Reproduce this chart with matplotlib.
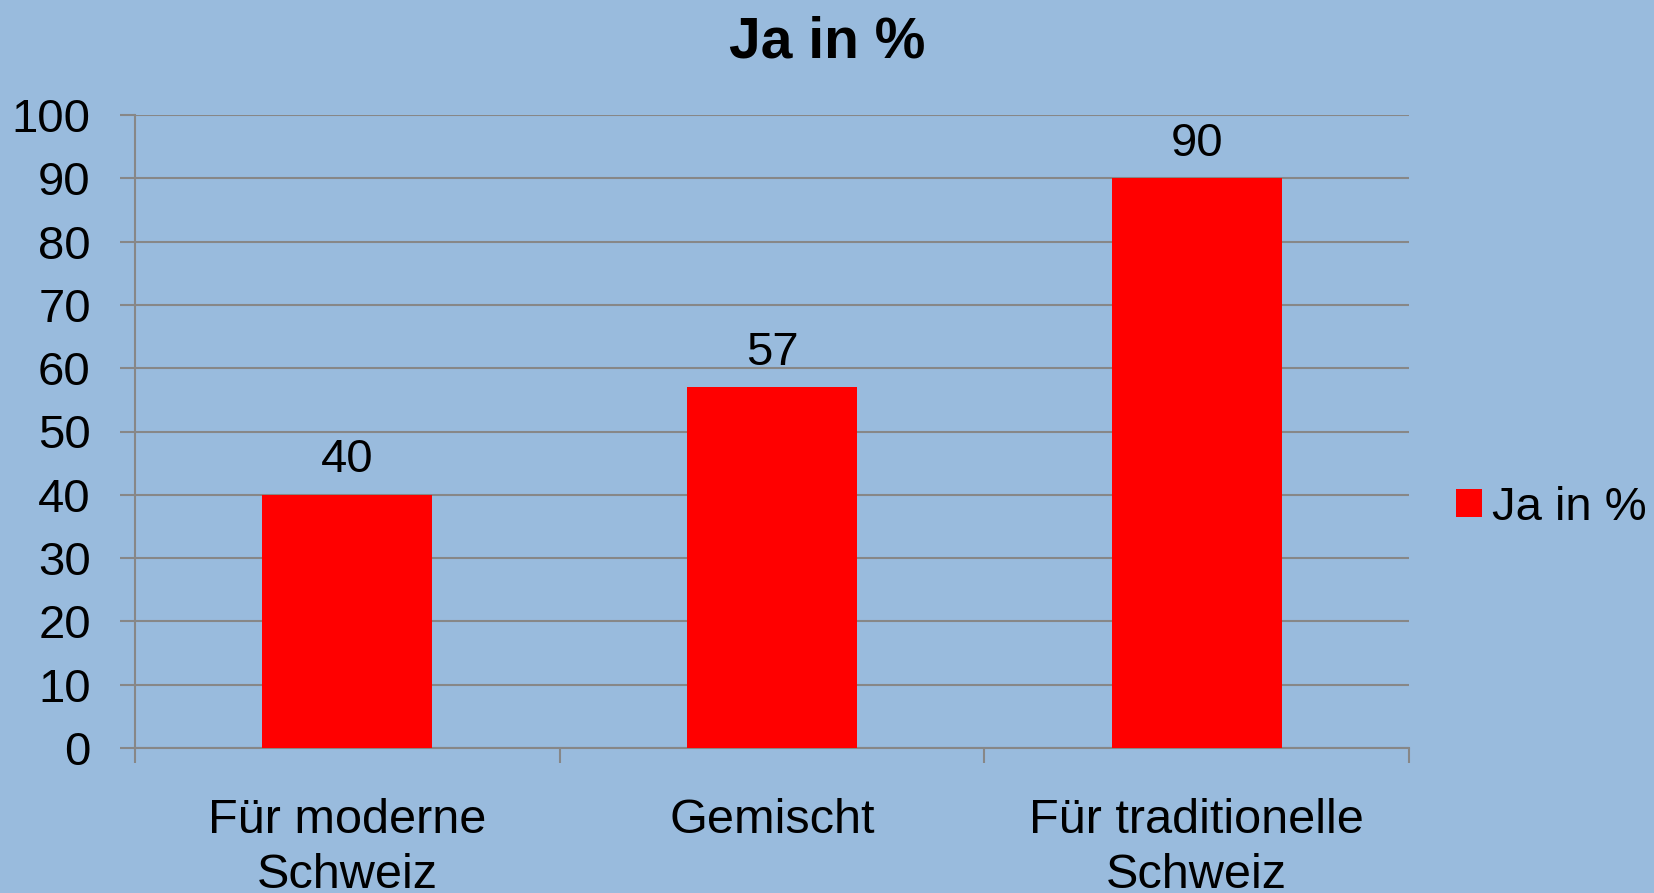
import matplotlib
matplotlib.use("Agg")
import matplotlib.pyplot as plt
from matplotlib.patches import Patch
import numpy as np

categories = ["Für moderne\nSchweiz", "Gemischt", "Für traditionelle\nSchweiz"]
values = [40, 57, 90]
series_name = "Ja in %"
title = "Ja in %"
yticks = list(range(0, 101, 10))

plt.rcParams['font.family'] = ['Liberation Sans', 'DejaVu Sans']
bg = "#99BBDD"
grid_c = "#878787"
bar_c = "#FF0000"

W, H = 1654, 893
fig = plt.figure(figsize=(W / 100, H / 100), dpi=100, facecolor=bg)
ax = fig.add_axes([135 / W, 1 - 748 / H, (1409 - 135) / W, (748 - 115) / H])
ax.set_facecolor(bg)

x = np.arange(len(categories))
bars = ax.bar(x, values, width=0.4, color=bar_c, zorder=3)
for b, v in zip(bars, values):
    ax.annotate(str(v), (b.get_x() + b.get_width() / 2, v), xytext=(0, 9),
                textcoords="offset points", ha="center", va="bottom",
                fontsize=34, color="black")

ax.set_xlim(-0.5, len(categories) - 0.5)
ax.set_ylim(0, 100)
ax.set_yticks(yticks)
ax.set_yticklabels([str(t) for t in yticks])
ax.yaxis.grid(True, color=grid_c, linewidth=1.5, zorder=0)
ax.tick_params(axis='y', length=10.8, width=1.5, color=grid_c, pad=21, labelsize=34)

ax.set_xticks(x)
ax.set_xticklabels(categories, linespacing=1.28)
ax.tick_params(axis='x', which='major', length=0, pad=36, labelsize=35)
ax.set_xticks(np.arange(-0.5, len(categories)), minor=True)
ax.tick_params(axis='x', which='minor', length=10.8, width=1.5, color=grid_c)

for s in ['top', 'right']:
    ax.spines[s].set_visible(False)
for s in ['left', 'bottom']:
    ax.spines[s].set_color(grid_c)
    ax.spines[s].set_linewidth(1.5)

fig.text(0.5, 1 - 42 / H, title, ha="center", va="center", fontsize=41,
         fontweight="bold")

handles = [Patch(facecolor=bar_c, edgecolor='none', label=series_name)]
fig.legend(handles=handles, loc="center left", bbox_to_anchor=(1456 / W, 1 - 508 / H),
           frameon=False, fontsize=34, handlelength=0.54, handleheight=0.54,
           handletextpad=0.22, borderpad=0, borderaxespad=0)

fig.savefig("out.png", dpi=100, facecolor=bg)
